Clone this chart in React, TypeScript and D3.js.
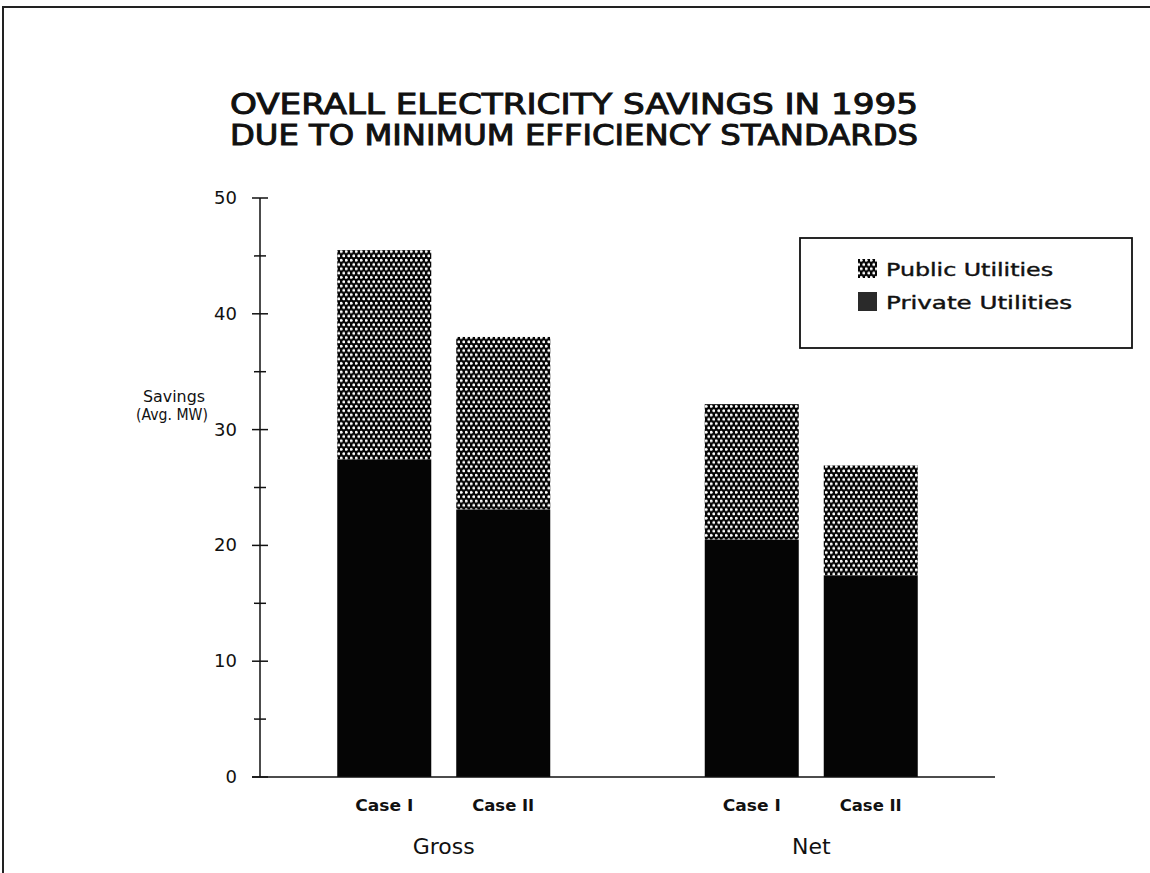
import React from "react";
import * as d3 from "d3";

const groups = ["Gross", "Net"];
const cases = ["Case I", "Case II"];
const privateValues = [
  [27.4, 23.1],
  [20.5, 17.4],
];
const publicValues = [
  [18.1, 14.9],
  [11.7, 9.5],
];
const yTicks = [0, 10, 20, 30, 40, 50];
const yMinorTicks = [5, 15, 25, 35, 45];
const seriesNames = ["Public Utilities", "Private Utilities"];
const titleLines = [
  "OVERALL ELECTRICITY SAVINGS IN 1995",
  "DUE TO MINIMUM EFFICIENCY STANDARDS",
];

export default function App() {
  const W = 1150;
  const H = 873;
  const axisX = 260;
  const axisEnd = 995;
  const y = d3.scaleLinear().domain([0, 50]).range([777, 198]);
  const xg = d3.scalePoint<string>().domain(groups).range([axisX, axisEnd]).padding(0.5);
  const xc = d3.scaleBand<string>().domain(cases).range([-106.5, 106.5]).paddingInner(0.21).paddingOuter(0);
  const bw = xc.bandwidth();
  const ink = "#111";
  const font = "'DejaVu Sans', sans-serif";

  const bars: JSX.Element[] = [];
  groups.forEach((g, gi) => {
    cases.forEach((c, ci) => {
      const x0 = (xg(g) as number) + (xc(c) as number);
      const pv = privateValues[gi][ci];
      const tot = pv + publicValues[gi][ci];
      bars.push(
        <g key={g + c}>
          <rect x={x0} y={y(tot)} width={bw} height={y(pv) - y(tot)} fill="url(#dots)" />
          <rect x={x0} y={y(pv)} width={bw} height={y(0) - y(pv)} fill="#050505" />
          <text
            x={x0 + bw / 2}
            y={811}
            textAnchor="middle"
            fontFamily="'DejaVu Sans Condensed', 'DejaVu Sans', sans-serif"
            fontSize={16}
            fontWeight="bold"
            fill={ink}
            textLength={ci === 0 ? 58 : 62}
            lengthAdjust="spacingAndGlyphs"
          >
            {c}
          </text>
        </g>
      );
    });
  });

  return (
    <svg width={W} height={H} style={{ position: "absolute", left: 0, top: 0, background: "#fff" }}>
      <defs>
        <pattern id="dots" patternUnits="userSpaceOnUse" width={5} height={8.6}>
          <rect width={5} height={8.6} fill="#050505" />
          <circle cx={1.25} cy={2.15} r={1.45} fill="#fff" />
          <circle cx={3.75} cy={6.45} r={1.45} fill="#fff" />
        </pattern>
      </defs>
      {/* border */}
      <path d={`M3,${H} L3,7 L${W},7`} fill="none" stroke="#222" strokeWidth={2} />

      {/* title */}
      {titleLines.map((t, i) => (
        <text
          key={t}
          x={574}
          y={114 + i * 31}
          textAnchor="middle"
          fontFamily="'DejaVu Sans Condensed', 'DejaVu Sans', sans-serif"
          fontSize={28}
          fill={ink}
          stroke={ink}
          strokeWidth={0.9}
          textLength={688}
          lengthAdjust="spacingAndGlyphs"
        >
          {t}
        </text>
      ))}

      {/* y axis */}
      <line x1={axisX} x2={axisX} y1={y(50)} y2={y(0)} stroke={ink} strokeWidth={1.5} />
      {yTicks.map((t) => (
        <g key={t}>
          <line x1={axisX - 8} x2={axisX + 8} y1={y(t)} y2={y(t)} stroke={ink} strokeWidth={1.5} />
          <text x={237} y={y(t) + 6} textAnchor="end" fontFamily={font} fontSize={18} fill={ink}>
            {t}
          </text>
        </g>
      ))}
      {yMinorTicks.map((t) => (
        <line key={t} x1={axisX - 6} x2={axisX + 6} y1={y(t)} y2={y(t)} stroke={ink} strokeWidth={1.5} />
      ))}
      <text x={174} y={402} textAnchor="middle" fontFamily={font} fontSize={16} fill={ink} textLength={62} lengthAdjust="spacingAndGlyphs">Savings</text>
      <text x={172} y={420} textAnchor="middle" fontFamily={font} fontSize={16} fill={ink} textLength={72} lengthAdjust="spacingAndGlyphs">(Avg. MW)</text>

      {bars}

      {/* x axis */}
      <line x1={axisX - 8} x2={axisEnd} y1={y(0)} y2={y(0)} stroke={ink} strokeWidth={1.5} />
      {groups.map((g) => (
        <text key={g} x={xg(g)} y={854} textAnchor="middle" fontFamily={font} fontSize={22} fill={ink}>
          {g}
        </text>
      ))}

      {/* legend */}
      <rect x={800} y={238} width={332} height={110} fill="#fff" stroke={ink} strokeWidth={1.8} />
      {seriesNames.map((s, i) => (
        <g key={s}>
          <rect x={858} y={259 + i * 33} width={19} height={19} fill={i === 0 ? "url(#dots)" : "#2a2a2a"} />
          <text
            x={886}
            y={276 + i * 33}
            fontFamily={font}
            fontSize={17}
            fill={ink}
            stroke={ink}
            strokeWidth={0.4}
            textLength={i === 0 ? 167 : 186}
            lengthAdjust="spacingAndGlyphs"
          >
            {s}
          </text>
        </g>
      ))}
    </svg>
  );
}
